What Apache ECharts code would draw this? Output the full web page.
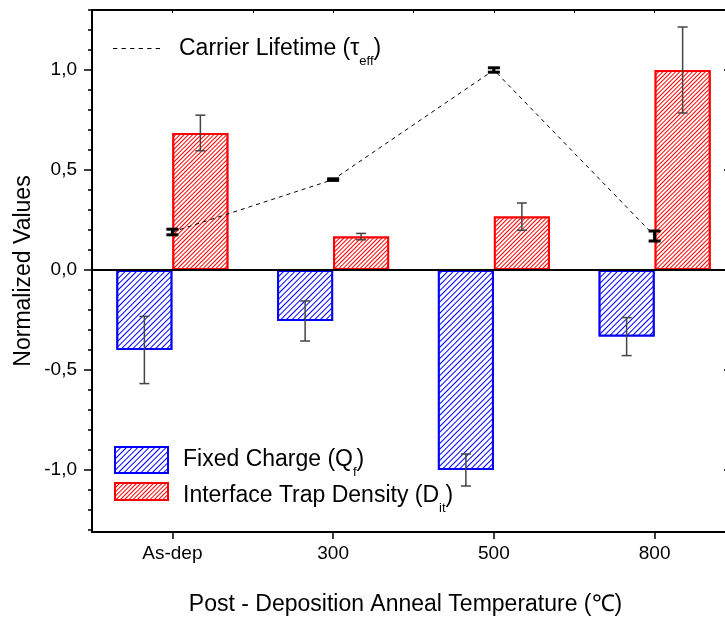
<!DOCTYPE html>
<html>
<head>
<meta charset="utf-8">
<script src="https://cdn.jsdelivr.net/npm/echarts@6/dist/echarts.min.js"></script>
<style>
  html, body { margin: 0; padding: 0; background: #fff; }
  #chart { width: 725px; height: 617px; }
</style>
</head>
<body>
<div id="chart"></div>
<script>
// Anneal temperature groups
const categories = ['As-dep', '300', '500', '800'];

// Fixed charge (Qf), normalized, with error half-widths
const fixedCharge = [-0.40, -0.255, -1.00, -0.333];
const fixedChargeErr = [0.168, 0.10, 0.08, 0.095];

// Interface trap density (Dit), normalized, with error half-widths
const trapDensity = [0.685, 0.167, 0.267, 1.00];
const trapDensityErr = [0.089, 0.016, 0.068, 0.215];

// Carrier lifetime (tau_eff), normalized, with error half-widths
const lifetime = [0.19, 0.452, 1.00, 0.17];
const lifetimeErr = [0.014, 0.004, 0.011, 0.025];

// Y axis tick positions
const majorTicks = [-1.0, -0.5, 0.0, 0.5, 1.0];
const minorTicks = [-1.3, -1.2, -1.1, -1.0, -0.9, -0.8, -0.7, -0.6, -0.5, -0.4, -0.3, -0.2, -0.1,
                    0.0, 0.1, 0.2, 0.3, 0.4, 0.5, 0.6, 0.7, 0.8, 0.9, 1.0, 1.1, 1.2, 1.3];

const FONT = "'Liberation Sans', Arial, sans-serif";
const Y_MIN = -1.31, Y_MAX = 1.3;
const BAR_W = 56;

// Diagonal hatch fill for the bars
function hatch(color, gap) {
  return {
    symbol: 'rect',
    symbolSize: 1,
    color: color,
    backgroundColor: '#fff',
    dashArrayX: [1, 0],
    dashArrayY: [1, gap],
    rotation: -Math.PI / 4
  };
}

// Vertical error bar with caps, drawn at the category centre plus a pixel offset
function errorBars(offset, capHalf, width, color) {
  return function (params, api) {
    const i = api.value(0);
    const lo = api.coord([i, api.value(1)]);
    const hi = api.coord([i, api.value(2)]);
    const x = lo[0] + offset;
    const st = { stroke: color, lineWidth: width };
    return {
      type: 'group',
      children: [
        { type: 'line', shape: { x1: x, y1: lo[1], x2: x, y2: hi[1] }, style: st },
        { type: 'line', shape: { x1: x - capHalf, y1: lo[1], x2: x + capHalf, y2: lo[1] }, style: st },
        { type: 'line', shape: { x1: x - capHalf, y1: hi[1], x2: x + capHalf, y2: hi[1] }, style: st }
      ]
    };
  };
}
function errData(vals, errs) {
  return vals.map((v, i) => [i, v - errs[i], v + errs[i]]);
}

const richText = {
  a: { fontSize: 23, fontFamily: FONT, color: '#000' },
  s: { fontSize: 13, fontFamily: FONT, color: '#000', padding: [25, 0, 0, 0] }
};

const dashIcon = 'path://M0,0h4v1h-4z M8,0h4v1h-4z M16,0h4v1h-4z M24,0h4v1h-4z M32,0h4v1h-4z M40,0h4v1h-4z';

const chart = echarts.init(document.getElementById('chart'));
chart.setOption({
  animation: false,
  backgroundColor: '#fff',
  grid: { left: 92, width: 643, top: 10, height: 522, containLabel: false, outerBoundsMode: 'none' },
  legend: [
    {
      data: [{ name: 'Carrier Lifetime', icon: dashIcon }],
      left: 113, top: 37, padding: 0,
      itemWidth: 47, itemHeight: 1.2,
      selectedMode: false,
      itemStyle: { color: '#000' },
      formatter: () => '{a|Carrier Lifetime (τ}{s|eff}{a|)}',
      textStyle: { rich: richText, padding: [0, 0, 0, 14] }
    },
    {
      data: [{ name: 'Fixed Charge', icon: 'rect' }],
      left: 114, top: 446, padding: 0,
      itemWidth: 53, itemHeight: 26,
      selectedMode: false,
      formatter: () => '{a|Fixed Charge (Q}{s|f}{a|)}',
      textStyle: { rich: richText, padding: [0, 0, 0, 10] }
    },
    {
      data: [{ name: 'Interface Trap Density', icon: 'rect' }],
      left: 114, top: 482, padding: 0,
      itemWidth: 53, itemHeight: 17,
      selectedMode: false,
      formatter: () => '{a|Interface Trap Density (D}{s|it}{a|)}',
      textStyle: { rich: richText, padding: [8, 0, 0, 10] }
    }
  ],
  xAxis: [
    {
      type: 'category',
      data: categories,
      position: 'bottom',
      axisLine: { show: true, onZero: false, lineStyle: { color: '#000', width: 2 } },
      axisTick: { show: true, alignWithLabel: true, length: 7, lineStyle: { color: '#000', width: 1.5 } },
      axisLabel: { color: '#000', fontSize: 19, fontFamily: FONT, margin: 12 },
      splitLine: { show: false },
      name: 'Post - Deposition Anneal Temperature (℃)',
      nameLocation: 'middle',
      nameGap: 61,
      nameMoveOverlap: false,
      nameTextStyle: { color: '#000', fontSize: 23, fontFamily: FONT, padding: [0, 16, 0, 0] }
    },
    {
      type: 'value',
      position: 'top',
      min: 0, max: 8, interval: 1,
      axisLine: { show: true, onZero: false, lineStyle: { color: '#000', width: 2 } },
      axisTick: { show: true, inside: true, length: 3, lineStyle: { color: '#000', width: 1 } },
      axisLabel: { show: false },
      splitLine: { show: false }
    }
  ],
  yAxis: [
    {
      type: 'value',
      position: 'left',
      min: Y_MIN, max: Y_MAX,
      axisLine: { show: true, onZero: false, lineStyle: { color: '#000', width: 2 } },
      axisTick: { show: true, customValues: majorTicks, length: 8, lineStyle: { color: '#000', width: 1.5 } },
      axisLabel: {
        customValues: majorTicks,
        color: '#000', fontSize: 19, fontFamily: FONT, margin: 15,
        formatter: v => v.toFixed(1).replace('.', ',')
      },
      splitLine: { show: false },
      name: 'Normalized Values',
      nameLocation: 'middle',
      nameGap: 57,
      nameMoveOverlap: false,
      nameTextStyle: { color: '#000', fontSize: 23, fontFamily: FONT }
    },
    {
      type: 'value',
      position: 'left',
      min: Y_MIN, max: Y_MAX,
      axisLine: { show: false, onZero: false },
      axisTick: { show: true, customValues: minorTicks, length: 4, lineStyle: { color: '#000', width: 1.5 } },
      axisLabel: { show: false },
      splitLine: { show: false }
    },
    {
      type: 'value',
      position: 'right',
      min: Y_MIN, max: Y_MAX,
      axisLine: { show: true, onZero: false, lineStyle: { color: '#000', width: 2 } },
      axisTick: { show: true, inside: true, customValues: majorTicks, length: 11, lineStyle: { color: '#000', width: 1.5 } },
      axisLabel: { show: false },
      splitLine: { show: false }
    }
  ],
  series: [
    {
      name: 'Fixed Charge',
      type: 'bar',
      data: fixedCharge,
      barWidth: BAR_W,
      barGap: '0%',
      itemStyle: { color: '#fff', borderColor: '#0000ff', borderWidth: 2, decal: hatch('#0000ff', 3) },
      markLine: {
        silent: true, symbol: 'none',
        label: { show: false },
        lineStyle: { color: '#000', width: 2, type: 'solid' },
        data: [{ yAxis: 0 }]
      },
      z: 2
    },
    {
      name: 'Interface Trap Density',
      type: 'bar',
      data: trapDensity,
      barWidth: BAR_W,
      barGap: '0%',
      itemStyle: { color: '#fff', borderColor: '#ff0000', borderWidth: 2, decal: hatch('#ff0000', 2) },
      z: 2
    },
    {
      name: 'Carrier Lifetime',
      type: 'line',
      data: lifetime,
      symbol: 'none',
      lineStyle: { color: '#000', width: 1, type: [4, 4] },
      itemStyle: { color: '#000' },
      z: 3
    },
    {
      type: 'custom',
      renderItem: errorBars(-BAR_W / 2, 5, 1.5, '#444'),
      data: errData(fixedCharge, fixedChargeErr),
      encode: { x: 0, y: [1, 2] },
      z: 4
    },
    {
      type: 'custom',
      renderItem: errorBars(BAR_W / 2, 5, 1.5, '#444'),
      data: errData(trapDensity, trapDensityErr),
      encode: { x: 0, y: [1, 2] },
      z: 4
    },
    {
      type: 'custom',
      renderItem: errorBars(0, 6, 3, '#000'),
      data: errData(lifetime, lifetimeErr),
      encode: { x: 0, y: [1, 2] },
      z: 5
    }
  ]
});
</script>
</body>
</html>
